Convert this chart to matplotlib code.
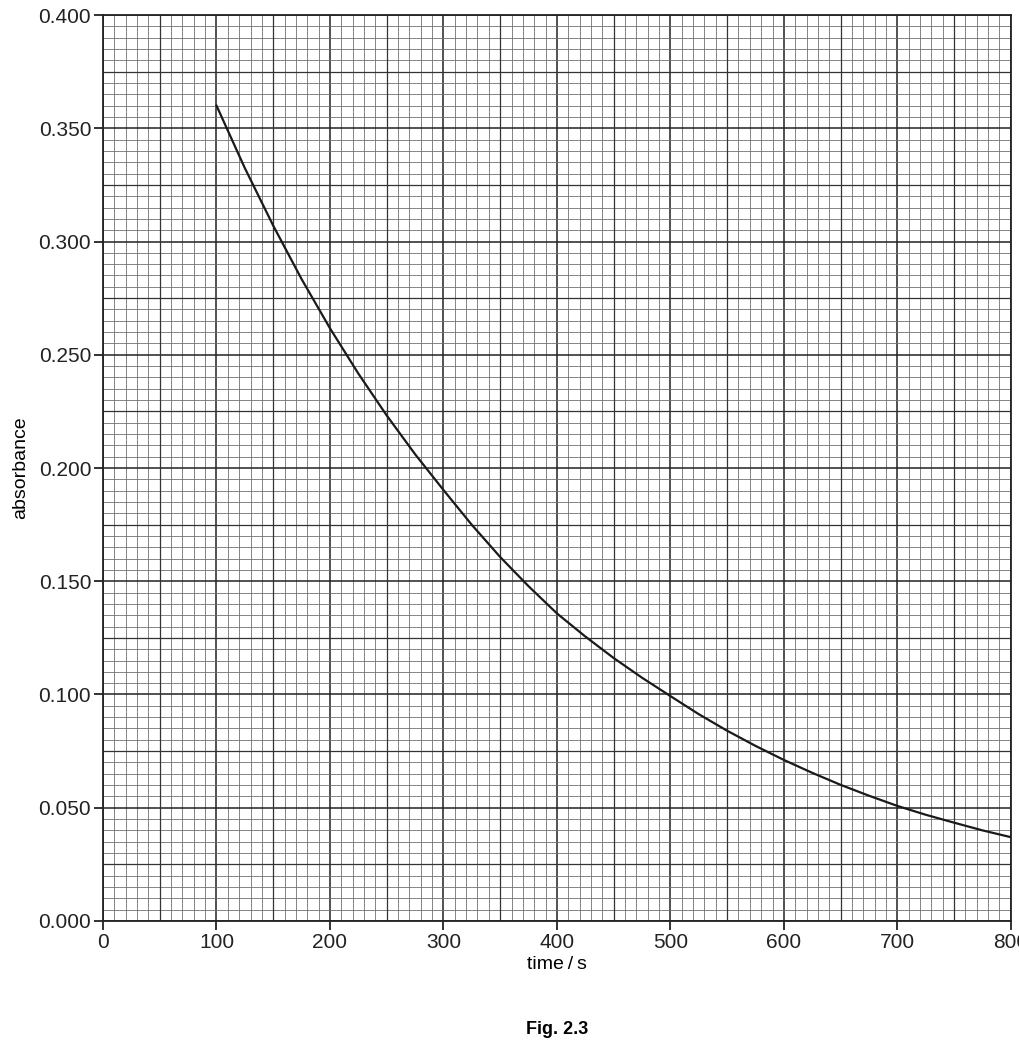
import matplotlib
matplotlib.use("Agg")
import matplotlib.pyplot as plt
import numpy as np

plt.rcParams['font.family'] = ['Liberation Sans', 'DejaVu Sans']

# values
time_s = [100, 125, 150, 175, 200, 225, 250, 275, 300, 325, 350, 375, 400,
          425, 450, 475, 500, 525, 550, 575, 600, 625, 650, 675, 700, 725,
          750, 775, 800]
absorbance = [0.3600, 0.3324, 0.3070, 0.2834, 0.2617, 0.2417, 0.2232, 0.2061,
              0.1903, 0.1749, 0.1607, 0.1478, 0.1358, 0.1256, 0.1161, 0.1074,
              0.0993, 0.0913, 0.0840, 0.0773, 0.0711, 0.0654, 0.0601, 0.0553,
              0.0508, 0.0469, 0.0434, 0.0400, 0.0370]

x_ticks = [0, 100, 200, 300, 400, 500, 600, 700, 800]
y_ticks = [0.000, 0.050, 0.100, 0.150, 0.200, 0.250, 0.300, 0.350, 0.400]

fig = plt.figure(figsize=(10.2, 10.45), dpi=100)
ax = fig.add_axes([0.101, 0.1187, 0.890, 0.8669])

ax.set_xlim(0, 800)
ax.set_ylim(0, 0.4)
ax.set_xticks(x_ticks)
ax.set_yticks(y_ticks)
ax.set_xticklabels([str(t) for t in x_ticks])
ax.set_yticklabels(['%.3f' % t for t in y_ticks])
ax.set_xticks(np.arange(0, 801, 10), minor=True)
ax.set_yticks(np.arange(0, 0.4001, 0.005), minor=True)

# graph-paper grid
ax.grid(which='minor', color='#707070', lw=0.6)
ax.grid(which='major', color='#222222', lw=1.1)
for xm in range(50, 800, 100):
    ax.axvline(xm, color='#333333', lw=0.9, zorder=0.6)
for ym in np.arange(0.025, 0.4, 0.05):
    ax.axhline(ym, color='#333333', lw=0.9, zorder=0.6)
ax.set_axisbelow(True)

ax.plot(time_s, absorbance, color='#1a1a1a', lw=1.6, zorder=3,
        solid_joinstyle='round')

for s in ax.spines.values():
    s.set_linewidth(1.3)
    s.set_color('#222222')

ax.tick_params(which='major', direction='out', length=6.5, width=1.3,
               labelsize=15, colors='#222222', pad=2)
ax.tick_params(which='minor', length=0)

ax.set_xlabel('time\u2009/\u2009s', fontsize=14, labelpad=3)
ax.set_ylabel('absorbance', fontsize=14, labelpad=7)

fig.text(0.546, 0.015, 'Fig. 2.3', ha='center', va='center',
         fontsize=13, fontweight='bold')

fig.savefig('out.png', dpi=100)
